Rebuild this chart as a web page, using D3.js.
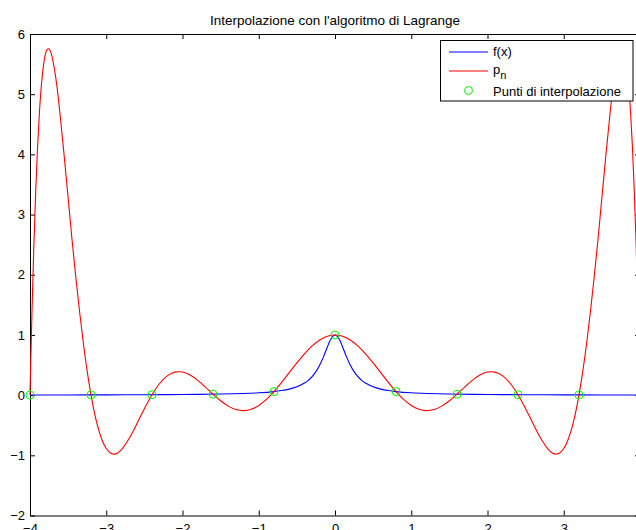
<!DOCTYPE html>
<html>
<head>
<meta charset="utf-8">
<script src="https://cdn.jsdelivr.net/npm/d3@7"></script>
<style>
  html, body { margin: 0; padding: 0; background: #fff; }
  svg { display: block; }
  text { font-family: "Liberation Sans", Arial, Helvetica, sans-serif; fill: #000; }
</style>
</head>
<body>
<svg id="chart" width="636" height="530"></svg>
<script>
// ---- data ----
const xTicks = [-4, -3, -2, -1, 0, 1, 2, 3, 4];
const yTicks = [-2, -1, 0, 1, 2, 3, 4, 5, 6];

// interpolation nodes and function values there
const nodeX = [-4, -3.2, -2.4, -1.6, -0.8, 0, 0.8, 1.6, 2.4, 3.2, 4];
const nodeY = [0.0025, 0.0039, 0.0069, 0.0154, 0.0588, 1, 0.0588, 0.0154, 0.0069, 0.0039, 0.0025];

// f(x) sampled
const fX = [-4, -3.5, -3, -2.5, -2, -1.5, -1.2, -1, -0.8, -0.7, -0.6, -0.5, -0.4, -0.35, -0.3, -0.25, -0.2, -0.15, -0.1, -0.05, 0,
            0.05, 0.1, 0.15, 0.2, 0.25, 0.3, 0.35, 0.4, 0.5, 0.6, 0.7, 0.8, 1, 1.2, 1.5, 2, 2.5, 3, 3.5, 4];
const fY = [0.0025, 0.0033, 0.0044, 0.0064, 0.0099, 0.0175, 0.0270, 0.0385, 0.0588, 0.0755, 0.1, 0.1379, 0.2, 0.2462, 0.3077, 0.3902, 0.5, 0.64, 0.8, 0.9412, 1,
            0.9412, 0.8, 0.64, 0.5, 0.3902, 0.3077, 0.2462, 0.2, 0.1379, 0.1, 0.0755, 0.0588, 0.0385, 0.0270, 0.0175, 0.0099, 0.0064, 0.0044, 0.0033, 0.0025];

// interpolating polynomial p_n sampled
const pnX = [-4, -3.975, -3.95, -3.925, -3.9, -3.875, -3.85, -3.825, -3.8, -3.775, -3.75, -3.725, -3.7, -3.65, -3.6, -3.55, -3.5, -3.45, -3.4, -3.35, -3.3, -3.25, -3.2, -3.15, -3.1, -3.05, -3, -2.95, -2.9, -2.85, -2.8,
             -2.7, -2.6, -2.5, -2.4, -2.3, -2.2, -2.1, -2, -1.9, -1.8, -1.7, -1.6, -1.5, -1.4, -1.3, -1.2, -1.1, -1, -0.9, -0.8, -0.7, -0.6, -0.5, -0.4, -0.3, -0.2, -0.1, 0,
             0.1, 0.2, 0.3, 0.4, 0.5, 0.6, 0.7, 0.8, 0.9, 1, 1.1, 1.2, 1.3, 1.4, 1.5, 1.6, 1.7, 1.8, 1.9, 2, 2.1, 2.2, 2.3, 2.4, 2.5, 2.6, 2.7,
             2.8, 2.85, 2.9, 2.95, 3, 3.05, 3.1, 3.15, 3.2, 3.25, 3.3, 3.35, 3.4, 3.45, 3.5, 3.55, 3.6, 3.65, 3.7, 3.725, 3.75, 3.775, 3.8, 3.825, 3.85, 3.875, 3.9, 3.925, 3.95, 3.975, 4];
const pnY = [0.0025, 1.335, 2.464, 3.390, 4.139, 4.724, 5.156, 5.459, 5.652, 5.744, 5.752, 5.690, 5.562, 5.163, 4.591, 3.951, 3.280, 2.599, 1.972, 1.389, 0.861, 0.398, 0.0039, -0.319, -0.573, -0.761, -0.887, -0.958, -0.980, -0.960, -0.906,
             -0.722, -0.480, -0.226, 0.0069, 0.193, 0.320, 0.382, 0.383, 0.333, 0.245, 0.133, 0.0154, -0.094, -0.183, -0.240, -0.258, -0.236, -0.172, -0.072, 0.0588, 0.211, 0.374, 0.536, 0.687, 0.817, 0.916, 0.979, 1,
             0.979, 0.916, 0.817, 0.687, 0.536, 0.374, 0.211, 0.0588, -0.072, -0.172, -0.236, -0.258, -0.240, -0.183, -0.094, 0.0154, 0.133, 0.245, 0.333, 0.383, 0.382, 0.320, 0.193, 0.0069, -0.226, -0.480, -0.722,
             -0.906, -0.960, -0.980, -0.958, -0.887, -0.761, -0.573, -0.319, 0.0039, 0.398, 0.861, 1.389, 1.972, 2.599, 3.280, 3.951, 4.591, 5.163, 5.562, 5.690, 5.752, 5.744, 5.652, 5.459, 5.156, 4.724, 4.139, 3.390, 2.464, 1.335, 0.0025];

const legendLabels = ["f(x)", "p", "Punti di interpolazione"];

// ---- layout ----
const svg = d3.select("#chart");
const x = d3.scaleLinear().domain([-4, 4]).range([30, 640]);
const y = d3.scaleLinear().domain([-2, 6]).range([515.5, 34]);

// title
svg.append("text")
  .attr("x", 335).attr("y", 25)
  .attr("text-anchor", "middle")
  .style("font-size", "13.5px")
  .text("Interpolazione con l'algoritmo di Lagrange");

const fmt = d => (d < 0 ? "\u2212" + Math.abs(d) : String(d));

// axes (ticks pointing inwards, box on all four sides)
const gB = svg.append("g").attr("transform", `translate(0,${y(-2)})`)
  .call(d3.axisBottom(x).tickValues(xTicks).tickFormat(fmt).tickSizeInner(-5).tickSizeOuter(0).tickPadding(8));
const gT = svg.append("g").attr("transform", `translate(0,${y(6)})`)
  .call(d3.axisTop(x).tickValues(xTicks).tickFormat("").tickSizeInner(-5).tickSizeOuter(0));
const gL = svg.append("g").attr("transform", `translate(${x(-4)},0)`)
  .call(d3.axisLeft(y).tickValues(yTicks).tickFormat(fmt).tickSizeInner(-5).tickSizeOuter(0).tickPadding(5));
const gR = svg.append("g").attr("transform", `translate(${x(4)},0)`)
  .call(d3.axisRight(y).tickValues(yTicks).tickFormat("").tickSizeInner(-5).tickSizeOuter(0));

[gB, gT, gL, gR].forEach(g => {
  g.select(".domain").attr("stroke", "#000").attr("stroke-width", 1);
  g.selectAll(".tick line").attr("stroke", "#000");
  g.selectAll("text").style("font-size", "13px").attr("font-family", null).attr("fill", "#000");
});

// curves
const line = d3.line().x(d => x(d[0])).y(d => y(d[1])).curve(d3.curveCatmullRom.alpha(0.5));

svg.append("path")
  .datum(fX.map((v, i) => [v, fY[i]]))
  .attr("fill", "none").attr("stroke", "#0000ff").attr("stroke-width", 1.1)
  .attr("d", line);

svg.append("path")
  .datum(pnX.map((v, i) => [v, pnY[i]]))
  .attr("fill", "none").attr("stroke", "#ff0000").attr("stroke-width", 1.1)
  .attr("d", line);

svg.append("g").selectAll("circle")
  .data(nodeX.map((v, i) => [v, nodeY[i]]))
  .join("circle")
  .attr("cx", d => x(d[0])).attr("cy", d => y(d[1]))
  .attr("r", 4)
  .attr("fill", "none").attr("stroke", "#00ff00").attr("stroke-width", 1);

// legend
const lg = svg.append("g");
lg.append("rect")
  .attr("x", 440.5).attr("y", 40.5).attr("width", 192.5).attr("height", 60.5)
  .attr("fill", "#fff").attr("stroke", "#000").attr("stroke-width", 1);

const rowY = [52, 71, 90.5];
lg.append("line").attr("x1", 449).attr("x2", 488).attr("y1", rowY[0]).attr("y2", rowY[0])
  .attr("stroke", "#0000ff").attr("stroke-width", 1.1);
lg.append("line").attr("x1", 449).attr("x2", 488).attr("y1", rowY[1]).attr("y2", rowY[1])
  .attr("stroke", "#ff0000").attr("stroke-width", 1.1);
lg.append("circle").attr("cx", 468.5).attr("cy", rowY[2]).attr("r", 4)
  .attr("fill", "none").attr("stroke", "#00ff00").attr("stroke-width", 1);

lg.append("text").attr("x", 493).attr("y", rowY[0] + 4).style("font-size", "13px").text(legendLabels[0]);
const pt = lg.append("text").attr("x", 493).attr("y", rowY[1] + 3).style("font-size", "13px");
pt.append("tspan").text(legendLabels[1]);
pt.append("tspan").attr("dy", 5).style("font-size", "11px").text("n");
lg.append("text").attr("x", 493).attr("y", rowY[2] + 5).style("font-size", "13px").text(legendLabels[2]);
</script>
</body>
</html>
